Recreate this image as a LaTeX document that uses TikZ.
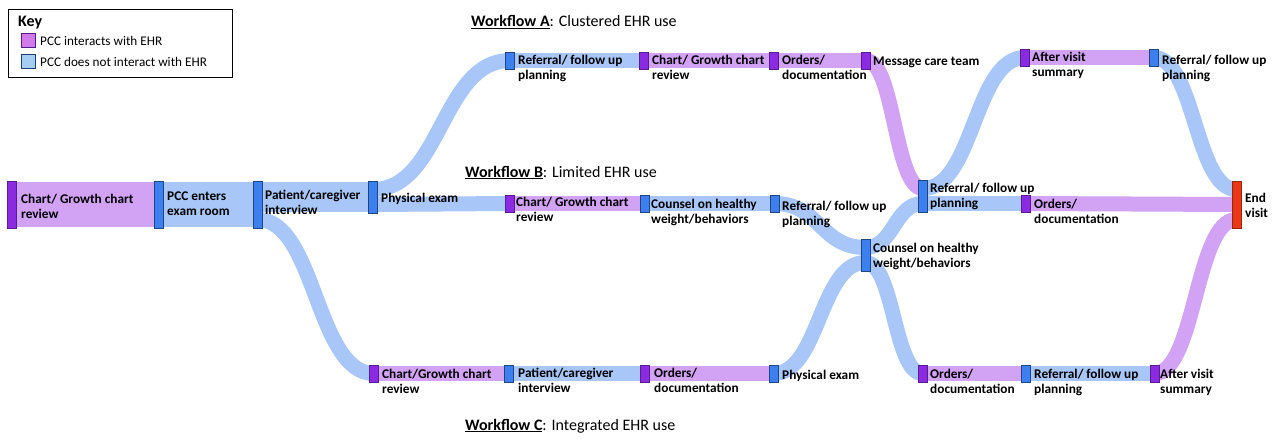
\documentclass[tikz,border=0pt]{standalone}
\usepackage{fontspec}
\setmainfont{Carlito}
\usetikzlibrary{calc}
\definecolor{pband}{RGB}{210,162,245}
\definecolor{bband}{RGB}{168,198,248}
\definecolor{pbarc}{RGB}{138,43,226}
\definecolor{bbarc}{RGB}{60,128,240}
\definecolor{rbarc}{RGB}{235,55,20}
\definecolor{keyp}{RGB}{208,122,236}
\definecolor{keyb}{RGB}{166,206,242}
\pgfdeclarelayer{background}
\pgfsetlayers{background,main}
\newcommand\flw[6]{\draw[#1,line width=#6pt] let \p1=($(#2.north)+(0,#3)$), \p2=($(#4.north)+(0,#5)$) in (\p1) .. controls ({(\x1+\x2)/2},\y1) and ({(\x1+\x2)/2},\y2) .. (\p2);}
\tikzset{
 barbase/.style={draw, line width=0.6pt, inner sep=0pt, outer sep=0pt, minimum width=9pt, anchor=north},
 pb/.style={barbase, fill=pbarc, draw=pbarc!65!black},
 bb/.style={barbase, fill=bbarc, draw=bbarc!55!black},
 rb/.style={barbase, fill=rbarc, draw=rbarc!65!black},
 one/.style={minimum height=17pt}, two/.style={minimum height=32pt}, three/.style={minimum height=47pt},
 lbl/.style={anchor=base west, align=left, font=\fontsize{13.3}{15}\selectfont\bfseries, inner sep=0pt},
 ttl/.style={anchor=base west, inner sep=0pt, font=\fontsize{16}{19}\selectfont},
 keyt/.style={anchor=base west, inner sep=0pt, font=\fontsize{13.2}{15}\selectfont},
}
\begin{document}
\begin{tikzpicture}[x=1pt,y=-1pt]
\useasboundingbox (0,0) rectangle (1277,439);
% key
\node[draw, line width=0.8pt, minimum width=224pt, minimum height=68pt, anchor=north west, inner sep=0pt] (key) at (8,9) {};
\node[anchor=base west, inner sep=0pt, font=\fontsize{16}{18}\selectfont\bfseries] (keyh) at (18,27) {Key};
\node[draw=pbarc!60!black, fill=keyp, minimum size=14pt, inner sep=0pt, anchor=north west] (kp) at (21,33) {};
\node[draw=bbarc!50!black, fill=keyb, minimum size=14pt, inner sep=0pt, anchor=north west] (kb) at (21,54) {};
\node[keyt] (kpt) at (40,45) {PCC interacts with EHR};
\node[keyt] (kbt) at (40,66) {PCC does not interact with EHR};
% titles
\node[ttl] (ta) at (471,27) {\textbf{\underline{Workflow A}}: Clustered EHR use};
\node[ttl] (tb) at (465,177) {\textbf{\underline{Workflow B}}: Limited EHR use};
\node[ttl] (tc) at (465,430) {\textbf{\underline{Workflow C}}: Integrated EHR use};
% bars
\node[pb,three] (L1) at (11.5,181) {};
\node[bb,three] (L2) at (159,181) {};
\node[bb,three] (L3) at (257.5,181) {};
\node[bb,two] (B1) at (373,181) {};
\node[pb,one] (C1) at (374,365) {};
\node[bb,one] (A1) at (510,52) {};
\node[pb,one] (B2) at (510,195) {};
\node[bb,one] (C2) at (509,365) {};
\node[pb,one] (A2) at (644,52) {};
\node[bb,one] (B3) at (644.5,195) {};
\node[pb,one] (C3) at (645,365) {};
\node[pb,one] (A3) at (773.5,52) {};
\node[bb,one] (B4) at (774.5,195) {};
\node[bb,one] (C4) at (773.5,365) {};
\node[pb,one] (A4) at (866,52) {};
\node[bb,two] (M1) at (865.5,239) {};
\node[bb,two] (M2) at (923,180) {};
\node[pb,one] (C5) at (922.5,365) {};
\node[pb,one] (A5) at (1025,49) {};
\node[pb,one] (B5) at (1026,195) {};
\node[bb,one] (C6) at (1026,365) {};
\node[bb,one] (A6) at (1153.5,49) {};
\node[pb,one] (C7) at (1154.5,365) {};
\node[rb,three] (E) at (1236.5,181) {};
% flows
\begin{pgfonlayer}{background}
\flw{pband}{L1}{23.5}{L2}{23.5}{45}
\flw{bband}{L2}{23.5}{L3}{23.5}{45}
\flw{bband}{L3}{16}{B1}{16}{30}
\flw{bband}{L3}{38.5}{C1}{8.5}{15}
\flw{bband}{B1}{8.5}{A1}{8.5}{15}
\flw{bband}{B1}{23.5}{B2}{8.5}{15}
\flw{bband}{A1}{8.5}{A2}{8.5}{15}
\flw{pband}{A2}{8.5}{A3}{8.5}{15}
\flw{pband}{A3}{8.5}{A4}{8.5}{15}
\flw{pband}{A4}{8.5}{M2}{8.5}{15}
\flw{pband}{B2}{8.5}{B3}{8.5}{15}
\flw{bband}{B3}{8.5}{B4}{8.5}{15}
\flw{bband}{B4}{8.5}{M1}{8.5}{15}
\flw{pband}{C1}{8.5}{C2}{8.5}{15}
\flw{bband}{C2}{8.5}{C3}{8.5}{15}
\flw{pband}{C3}{8.5}{C4}{8.5}{15}
\flw{bband}{C4}{8.5}{M1}{23.5}{15}
\flw{bband}{M1}{8.5}{M2}{23.5}{15}
\flw{bband}{M1}{23.5}{C5}{8.5}{15}
\flw{bband}{M2}{8.5}{A5}{8.5}{15}
\flw{bband}{M2}{23.5}{B5}{8.5}{15}
\flw{pband}{C5}{8.5}{C6}{8.5}{15}
\flw{bband}{C6}{8.5}{C7}{8.5}{15}
\flw{pband}{A5}{8.5}{A6}{8.5}{15}
\flw{bband}{A6}{8.5}{E}{8.5}{15}
\flw{pband}{B5}{8.5}{E}{23.5}{15}
\flw{pband}{C7}{8.5}{E}{38.5}{15}
\end{pgfonlayer}
% labels (two-line labels: y is the baseline of the second line)
\node[lbl] (tL1) at (21,218) {Chart/ Growth chart\\review};
\node[lbl] (tL2) at (167,215) {PCC enters\\exam room};
\node[lbl] (tL3) at (265,214) {Patient/caregiver\\interview};
\node[lbl] (tB1) at (381,202) {Physical exam};
\node[lbl] (tA1) at (518,79) {Referral/ follow up\\planning};
\node[lbl] (tA2) at (652,79) {Chart/ Growth chart\\review};
\node[lbl] (tA3) at (782,79) {Orders/\\documentation};
\node[lbl] (tA4) at (873,65) {Message care team};
\node[lbl] (tA5) at (1032,76) {After visit\\summary};
\node[lbl] (tA6) at (1162,79) {Referral/ follow up\\planning};
\node[lbl] (tE) at (1245,217) {End\\visit};
\node[lbl] (tB2) at (516,221) {Chart/ Growth chart\\review};
\node[lbl] (tB3) at (651,223) {Counsel on healthy\\weight/behaviors};
\node[lbl] (tB4) at (782,225) {Referral/ follow up\\planning};
\node[lbl] (tM1) at (873,267) {Counsel on healthy\\weight/behaviors};
\node[lbl] (tM2) at (930,207) {Referral/ follow up\\planning};
\node[lbl] (tB5) at (1034,223) {Orders/\\documentation};
\node[lbl] (tC1) at (382,393) {Chart/Growth chart\\review};
\node[lbl] (tC2) at (518,392) {Patient/caregiver\\interview};
\node[lbl] (tC3) at (654,392) {Orders/\\documentation};
\node[lbl] (tC4) at (782,379) {Physical exam};
\node[lbl] (tC5) at (930,393) {Orders/\\documentation};
\node[lbl] (tC6) at (1034,393) {Referral/ follow up\\planning};
\node[lbl] (tC7) at (1160,393) {After visit\\summary};
\end{tikzpicture}
\end{document}
